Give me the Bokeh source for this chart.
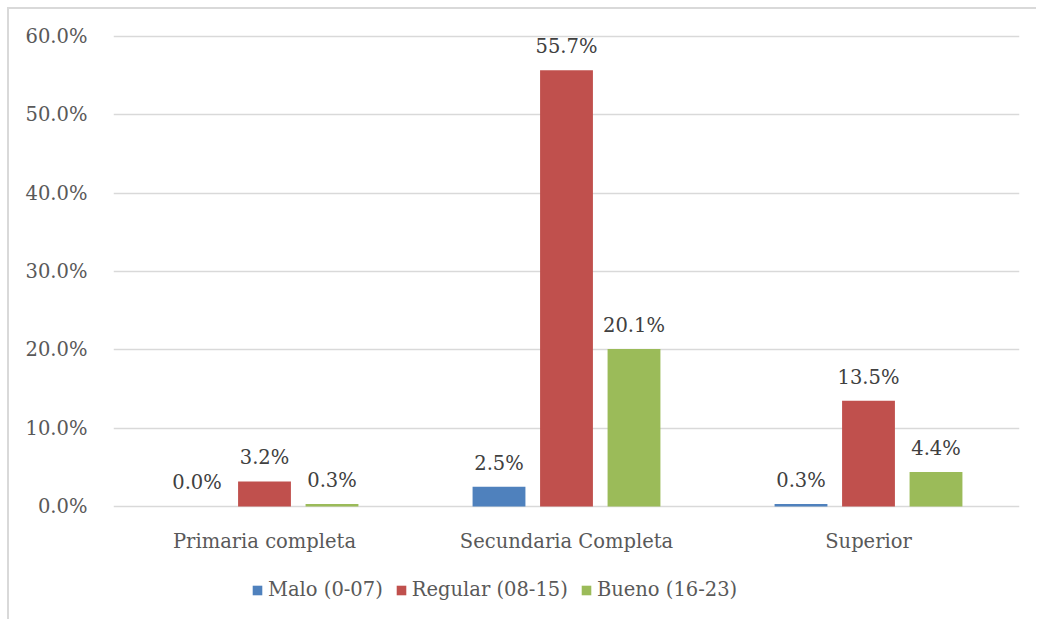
from bokeh.plotting import figure
from bokeh.models import (ColumnDataSource, FactorRange, Range1d, FixedTicker,
                          NumeralTickFormatter, Legend, LegendItem)
from bokeh.transform import dodge
from bokeh.core.properties import value
from bokeh.embed import file_html
from bokeh.resources import INLINE

categories = ["Primaria completa", "Secundaria Completa", "Superior"]
series_names = ["Malo (0-07)", "Regular (08-15)", "Bueno (16-23)"]
malo = [0.0, 2.5, 0.3]
regular = [3.2, 55.7, 13.5]
bueno = [0.3, 20.1, 4.4]
y_ticks = [0, 10, 20, 30, 40, 50, 60]

colors = ["#4f81bd", "#c0504d", "#9bbb59"]
FONT = "DejaVu Serif"
FS = "19.5px"

src = ColumnDataSource(data=dict(
    cat=categories,
    malo=[v / 100 for v in malo],
    regular=[v / 100 for v in regular],
    bueno=[v / 100 for v in bueno],
    malo_lbl=[f"{v:.1f}%" for v in malo],
    regular_lbl=[f"{v:.1f}%" for v in regular],
    bueno_lbl=[f"{v:.1f}%" for v in bueno],
))

# the frame reaches down to the bottom edge so the legend can sit under the axis
p = figure(width=1029, height=612, output_backend="svg", toolbar_location=None,
           x_range=FactorRange(*categories, range_padding=0),
           y_range=Range1d(-0.1469, 0.6026),
           min_border_left=104, min_border_right=19,
           min_border_top=25, min_border_bottom=0)
p.margin = (7, 0, 0, 7)
p.styles = {"border-top": "2px solid #d9d9d9", "border-left": "2px solid #d9d9d9"}
p.outline_line_color = None
p.background_fill_color = "white"
p.border_fill_color = "white"

offsets = [-0.2235, 0.0, 0.2235]
keys = ["malo", "regular", "bueno"]
renderers = []
for key, off, col in zip(keys, offsets, colors):
    r = p.vbar(x=dodge("cat", off, range=p.x_range), top=key, width=0.175,
               source=src, fill_color=col, line_color=None)
    renderers.append(r)
    p.text(x=dodge("cat", off, range=p.x_range), y=key, text=key + "_lbl",
           source=src, text_align="center", text_baseline="bottom",
           y_offset=-12, text_font=value(FONT), text_font_size=FS,
           text_color="#404040")

# axes
p.yaxis.ticker = FixedTicker(ticks=[t / 100 for t in y_ticks])
p.yaxis.formatter = NumeralTickFormatter(format="0.0%")
p.yaxis.axis_line_color = None
p.yaxis.major_tick_line_color = None
p.yaxis.minor_tick_line_color = None
p.yaxis.major_label_standoff = 20
p.yaxis.major_label_text_font = FONT
p.yaxis.major_label_text_font_size = FS
p.yaxis.major_label_text_color = "#595959"

p.xaxis.fixed_location = 0
p.xaxis.axis_line_color = None
p.xaxis.major_tick_line_color = None
p.xaxis.minor_tick_line_color = None
p.xaxis.major_label_standoff = 18
p.xaxis.major_label_text_font = FONT
p.xaxis.major_label_text_font_size = FS
p.xaxis.major_label_text_color = "#595959"

p.xgrid.grid_line_color = None
p.ygrid.grid_line_color = "#d9d9d9"
p.ygrid.grid_line_width = 1.5

legend = Legend(items=[LegendItem(label=n, renderers=[r]) for n, r in zip(series_names, renderers)],
                orientation="horizontal", location=(138, 20),
                label_text_font=FONT, label_text_font_size=FS,
                label_text_color="#595959", glyph_width=12, glyph_height=12,
                label_standoff=5, spacing=12, padding=0, margin=0,
                border_line_color=None, background_fill_alpha=0)
p.add_layout(legend, "center")

open("out.html", "w").write(file_html(p, INLINE))
